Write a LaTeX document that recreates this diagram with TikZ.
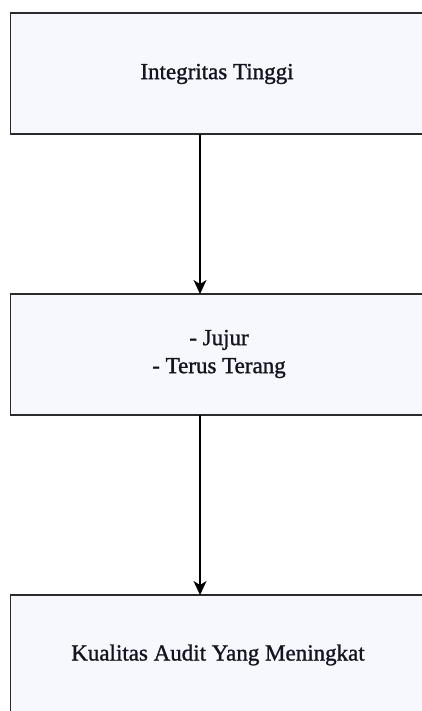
\documentclass[tikz,border=0pt]{standalone}
\usepackage{fontspec}
\setmainfont{Liberation Serif}
\newfontface\heavyserif{Liberation Serif}[FakeBold=1.2]
\usetikzlibrary{arrows.meta}
\definecolor{boxfill}{HTML}{F7F8FD}
\definecolor{boxline}{HTML}{2A2A2A}
\definecolor{txt}{HTML}{141420}
\tikzset{
  flowbox/.style={draw=boxline, fill=boxfill, line width=1.5pt},
  lbl/.style={font=\heavyserif\fontsize{23}{28}\selectfont, align=center, text=txt},
  conn/.style={draw=black, line width=1.2pt, -{Stealth[length=14pt,width=13pt,inset=4pt]}}
}
\begin{document}
\begin{tikzpicture}[x=1pt,y=1pt]
\useasboundingbox (0,0) rectangle (422,-711);
\begin{scope}
\clip (0,0) rectangle (422,-711);
\draw[flowbox] (10.5,-13) rectangle (440,-134);
\draw[flowbox] (10.5,-294) rectangle (440,-415);
\draw[flowbox] (10.5,-595) rectangle (440,-760);
\end{scope}
\node[lbl] (t1) at (217,-74) {Integritas Tinggi};
\node[lbl] (t2) at (219,-354) {- Jujur\\- Terus Terang};
\node[lbl] (t3) at (218,-655) {Kualitas Audit Yang Meningkat};
\coordinate (b1) at (200,-134);
\coordinate (a2) at (200,-294);
\coordinate (b2) at (200,-415);
\coordinate (a3) at (200,-595);
\draw[conn] (b1) -- (a2);
\draw[conn] (b2) -- (a3);
\end{tikzpicture}
\end{document}
